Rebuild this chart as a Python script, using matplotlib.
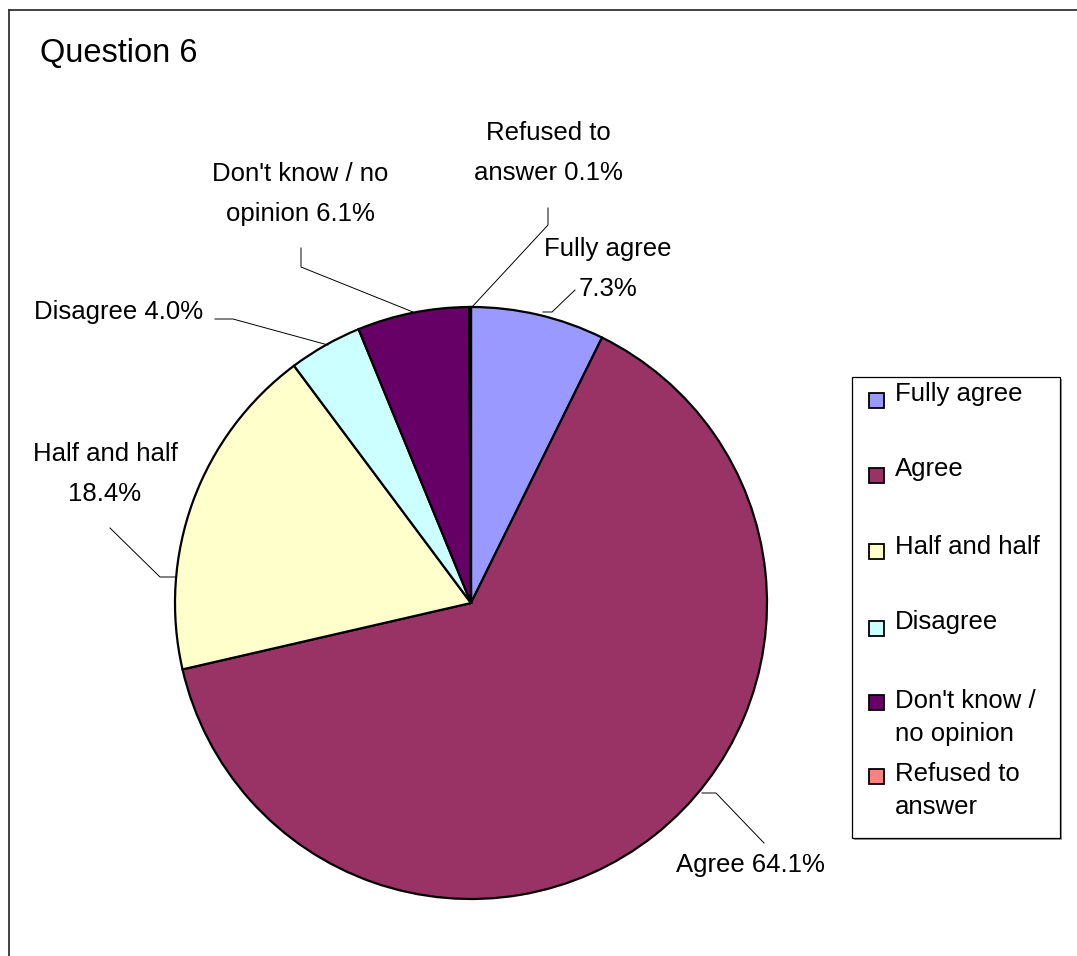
import matplotlib
matplotlib.use("Agg")
import matplotlib.pyplot as plt
from matplotlib.patches import Rectangle
from matplotlib.lines import Line2D

plt.rcParams['font.family'] = ['Liberation Sans', 'DejaVu Sans']

# Data
categories = ['Fully agree', 'Agree', 'Half and half', 'Disagree',
              "Don't know / no opinion", 'Refused to answer']
shares = [7.3, 64.1, 18.4, 4.0, 6.1, 0.1]
colors = ['#9999FF', '#993366', '#FFFFCC', '#CCFFFF', '#660066', '#FF8080']

# how each name wraps in the slice labels and in the legend
label_names = ['Fully agree\n', 'Agree ', 'Half and half\n', 'Disagree ',
               "Don't know / no\nopinion ", 'Refused to\nanswer ']
legend_names = ['Fully agree', 'Agree', 'Half and half', 'Disagree',
                "Don't know /\nno opinion", 'Refused to\nanswer']

W, H = 1077, 956
CX, CY, R = 471, 603, 296   # pie centre / radius in pixels


def px(x, y):
    """pixel position -> pie data coords (radius = 1)"""
    return (x - CX) / R, (CY - y) / R


# label centres and leader polylines (pixels), in slice order
label_pos = [(608, 269), (750, 865), (105, 474), (119, 312), (300, 194), (548, 153)]
leaders = [
    [(575, 290), (552, 312), (543, 312)],
    [(764, 843), (716, 793), (702, 793)],
    [(110, 528), (160, 577), (175, 577)],
    [(215, 319), (233, 319), (328, 345)],
    [(301, 248), (301, 267), (413, 312)],
    [(548, 208), (548, 225), (472, 307)],
]

fig = plt.figure(figsize=(W / 100, H / 100), dpi=100)
fig.patch.set_facecolor('white')

ax = fig.add_axes([(CX - R) / W, (H - CY - R) / H, 2 * R / W, 2 * R / H])
ax.pie(shares, colors=colors, startangle=90, counterclock=False, radius=1,
       wedgeprops=dict(edgecolor='black', linewidth=1.6))
ax.set_xlim(-1, 1)
ax.set_ylim(-1, 1)

for name, v, pos, pts in zip(label_names, shares, label_pos, leaders):
    tx, ty = px(*pos)
    ax.text(tx, ty, f"{name}{v:.1f}%", ha='center', va='center',
            fontsize=18.5, linespacing=1.85, clip_on=False)
    xs, ys = zip(*[px(*p) for p in pts])
    ax.add_line(Line2D(xs, ys, color='black', linewidth=0.7, clip_on=False))

# title
fig.text(40 / W, 1 - 53 / H, 'Question 6', fontsize=23.5, ha='left', va='center')

# outer chart frame (continues past the right and bottom edges)
fig.add_artist(Line2D([9 / W, 9 / W], [0, 1 - 10 / H], color='#333333',
                      linewidth=1.3, transform=fig.transFigure))
fig.add_artist(Line2D([9 / W, 1], [1 - 10 / H, 1 - 10 / H], color='#333333',
                      linewidth=1.3, transform=fig.transFigure))

# legend box
lx0, ly0, lx1, ly1 = 852, 377, 1060, 838
fig.add_artist(Rectangle((lx0 / W + 2 / W, 1 - (ly1 + 2) / H), (lx1 - lx0) / W,
                         (ly1 - ly0) / H, transform=fig.transFigure,
                         facecolor='#999999', edgecolor='none'))
fig.add_artist(Rectangle((lx0 / W, 1 - ly1 / H), (lx1 - lx0) / W, (ly1 - ly0) / H,
                         transform=fig.transFigure, facecolor='white',
                         edgecolor='black', linewidth=0.9))

patch_y = [400, 475, 551, 628, 702, 776]
text_y = [394, 469, 547, 622, 700, 773]
for name, c, py, ty in zip(legend_names, colors, patch_y, text_y):
    fig.add_artist(Rectangle((869 / W, 1 - (py + 8) / H), 15 / W, 15 / H,
                             transform=fig.transFigure, facecolor=c,
                             edgecolor='black', linewidth=1.3))
    n = name.count('\n')
    fig.text(895 / W, 1 - (ty + n * 17.5) / H, name, fontsize=18.5, ha='left',
             va='center', linespacing=1.5)

fig.savefig('out.png', dpi=100)
